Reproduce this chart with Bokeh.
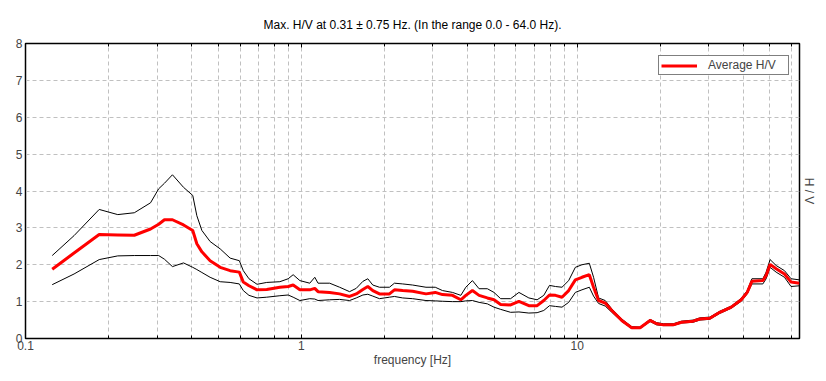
from bokeh.plotting import figure
from bokeh.models import (ColumnDataSource, FixedTicker, LinearAxis, LogAxis,
                          Range1d, Legend, LegendItem)
from bokeh.embed import file_html
from bokeh.resources import INLINE

# ---- data ----
freq = [0.125, 0.150, 0.185, 0.216, 0.248, 0.284, 0.304, 0.319, 0.341, 0.374,
        0.404, 0.418, 0.436, 0.467, 0.508, 0.552, 0.596, 0.616, 0.646, 0.691,
        0.749, 0.836, 0.896, 0.934, 0.988, 1.073, 1.119, 1.150, 1.267, 1.377,
        1.496, 1.582, 1.672, 1.742, 1.816, 1.920, 2.087, 2.176, 2.331, 2.533,
        2.831, 3.059, 3.250, 3.532, 3.787, 3.948, 4.172, 4.410, 4.725, 4.995,
        5.281, 5.739, 6.150, 6.682, 7.160, 7.569, 7.939, 8.345, 8.812, 9.318,
        9.851, 10.41, 11.07, 11.47, 11.96, 12.64, 13.36, 14.51, 15.77, 16.92,
        18.38, 19.42, 20.53, 22.31, 23.89, 26.34, 27.86, 30.27, 32.89, 36.22,
        39.35, 41.36, 43.01, 47.13, 48.44, 50.08, 52.65, 56.45, 59.64, 64.0]

hv_avg = [1.88, 2.32, 2.82, 2.81, 2.80, 2.97, 3.10, 3.22, 3.22, 3.08,
          2.93, 2.57, 2.35, 2.11, 1.93, 1.84, 1.80, 1.53, 1.43, 1.32,
          1.33, 1.39, 1.41, 1.45, 1.32, 1.32, 1.36, 1.27, 1.25, 1.21,
          1.14, 1.21, 1.33, 1.41, 1.30, 1.21, 1.21, 1.32, 1.30, 1.28,
          1.21, 1.25, 1.19, 1.17, 1.05, 1.17, 1.30, 1.17, 1.10, 1.05,
          0.92, 0.91, 1.01, 0.89, 0.89, 1.03, 1.18, 1.17, 1.12, 1.30,
          1.59, 1.66, 1.73, 1.39, 1.03, 0.96, 0.76, 0.49, 0.29, 0.29,
          0.49, 0.40, 0.37, 0.37, 0.44, 0.47, 0.53, 0.55, 0.71, 0.85,
          1.05, 1.25, 1.55, 1.57, 1.71, 2.01, 1.89, 1.75, 1.53, 1.50]

hv_upper = [2.25, 2.79, 3.50, 3.36, 3.41, 3.68, 4.06, 4.21, 4.44, 4.10,
            3.88, 3.33, 2.93, 2.63, 2.43, 2.18, 2.11, 1.84, 1.62, 1.47,
            1.52, 1.54, 1.62, 1.73, 1.57, 1.50, 1.66, 1.50, 1.50, 1.39,
            1.27, 1.36, 1.55, 1.62, 1.45, 1.39, 1.39, 1.50, 1.48, 1.45,
            1.39, 1.39, 1.30, 1.25, 1.17, 1.39, 1.57, 1.35, 1.35, 1.25,
            1.08, 1.08, 1.25, 1.10, 1.05, 1.17, 1.44, 1.41, 1.39, 1.57,
            1.93, 2.00, 2.04, 1.66, 1.10, 1.03, 0.80, 0.53, 0.32, 0.31,
            0.52, 0.43, 0.40, 0.40, 0.47, 0.50, 0.56, 0.58, 0.74, 0.88,
            1.09, 1.30, 1.62, 1.62, 1.80, 2.14, 1.98, 1.84, 1.62, 1.59]

hv_lower = [1.46, 1.75, 2.14, 2.24, 2.25, 2.25, 2.25, 2.15, 1.95, 2.05,
            1.93, 1.87, 1.79, 1.66, 1.54, 1.52, 1.48, 1.30, 1.17, 1.10,
            1.12, 1.16, 1.18, 1.12, 1.03, 1.08, 1.07, 1.03, 1.05, 1.06,
            1.03, 1.10, 1.18, 1.20, 1.15, 1.08, 1.12, 1.14, 1.10, 1.08,
            1.03, 1.02, 1.01, 1.00, 1.00, 1.02, 1.03, 0.98, 0.94, 0.85,
            0.79, 0.71, 0.72, 0.69, 0.70, 0.76, 0.89, 0.87, 0.85, 0.98,
            1.25, 1.32, 1.39, 1.15, 0.95, 0.88, 0.71, 0.46, 0.27, 0.27,
            0.46, 0.37, 0.35, 0.35, 0.42, 0.44, 0.50, 0.52, 0.68, 0.82,
            1.01, 1.21, 1.48, 1.48, 1.62, 1.93, 1.80, 1.66, 1.41, 1.43]

x_major = [0.1, 1, 10]
x_minor = [0.2, 0.3, 0.4, 0.5, 0.6, 0.7, 0.8, 0.9,
           2, 3, 4, 5, 6, 7, 8, 9,
           20, 30, 40, 50, 60]
y_ticks = [0, 1, 2, 3, 4, 5, 6, 7, 8]

title_text = "Max. H/V at 0.31 \u00b1 0.75 Hz. (In the range 0.0 - 64.0 Hz)."
FONT = "Liberation Sans"

src = ColumnDataSource(dict(f=freq, avg=hv_avg, up=hv_upper, lo=hv_lower))

p = figure(width=818, height=373, x_axis_type="log",
           x_range=Range1d(0.1, 64), y_range=Range1d(0, 8),
           output_backend="svg", toolbar_location=None,
           min_border_left=25, min_border_right=16,
           min_border_top=43, min_border_bottom=35)

p.title.text = title_text
p.title.align = "center"
p.title.text_font = FONT
p.title.text_font_size = "12px"
p.title.text_font_style = "normal"
p.title.text_color = "black"
p.title.standoff = 23

p.outline_line_color = "black"
p.outline_line_width = 1.5
p.background_fill_color = "white"
p.border_fill_color = "white"

# axes
xa = p.xaxis[0]
xa.ticker = FixedTicker(ticks=x_major, minor_ticks=x_minor)
xa.major_label_overrides = {0.1: "0.1", 1: "1", 10: "10"}
xa.axis_label = "frequency [Hz]"
xa.axis_label_text_font = FONT
xa.axis_label_text_font_size = "12px"
xa.axis_label_text_font_style = "normal"
xa.axis_label_standoff = 0
xa.major_label_text_font = FONT
xa.major_label_text_font_size = "12px"
xa.major_label_standoff = 2
xa.major_tick_in = 4
xa.major_tick_out = 0
xa.minor_tick_in = 3
xa.minor_tick_out = 0
xa.axis_line_color = "black"

ta = LogAxis(ticker=FixedTicker(ticks=x_major, minor_ticks=x_minor),
             major_label_text_color=None, major_label_text_font_size="8px",
             major_label_standoff=0,
             major_tick_in=4, major_tick_out=0,
             minor_tick_in=3, minor_tick_out=0, axis_line_color="black")
p.add_layout(ta, "above")

ya = p.yaxis[0]
ya.ticker = FixedTicker(ticks=y_ticks)
ya.major_label_text_font = FONT
ya.major_label_text_font_size = "12px"
ya.major_label_standoff = 3
ya.major_tick_in = 0
ya.major_tick_out = 0
ya.minor_tick_in = 0
ya.minor_tick_out = 0
ya.axis_line_color = "black"

ra = LinearAxis(ticker=FixedTicker(ticks=[]), axis_label="H / V",
                axis_line_color=None, major_tick_line_color=None,
                minor_tick_line_color=None)
ra.axis_label_text_font = FONT
ra.axis_label_text_font_size = "12px"
ra.axis_label_text_font_style = "normal"
ra.axis_label_standoff = 2
p.add_layout(ra, "right")

# grids
grid_col = "#c0c0c0"
p.xgrid.ticker = FixedTicker(ticks=x_major, minor_ticks=x_minor)
p.xgrid.grid_line_color = grid_col
p.xgrid.grid_line_dash = "4 3"
p.xgrid.minor_grid_line_color = grid_col
p.xgrid.minor_grid_line_dash = "4 3"
p.ygrid.ticker = FixedTicker(ticks=y_ticks)
p.ygrid.grid_line_color = grid_col
p.ygrid.grid_line_dash = "4 3"

# curves
p.line("f", "up", source=src, line_color="black", line_width=1)
p.line("f", "lo", source=src, line_color="black", line_width=1)
r_avg = p.line("f", "avg", source=src, line_color="#ff0000", line_width=3)

legend = Legend(items=[LegendItem(label="Average H/V", renderers=[r_avg])],
                location=(633, 263))
legend.label_text_font = FONT
legend.label_text_font_size = "12px"
legend.label_text_line_height = 1.0
legend.label_height = 11
legend.label_width = 78
legend.glyph_height = 11
legend.glyph_width = 36
legend.label_standoff = 11
legend.padding = 2
legend.margin = 0
legend.spacing = 0
legend.border_line_color = "black"
legend.border_line_width = 1
legend.background_fill_alpha = 1
p.add_layout(legend, "center")

open("out.html", "w").write(file_html(p, INLINE))
